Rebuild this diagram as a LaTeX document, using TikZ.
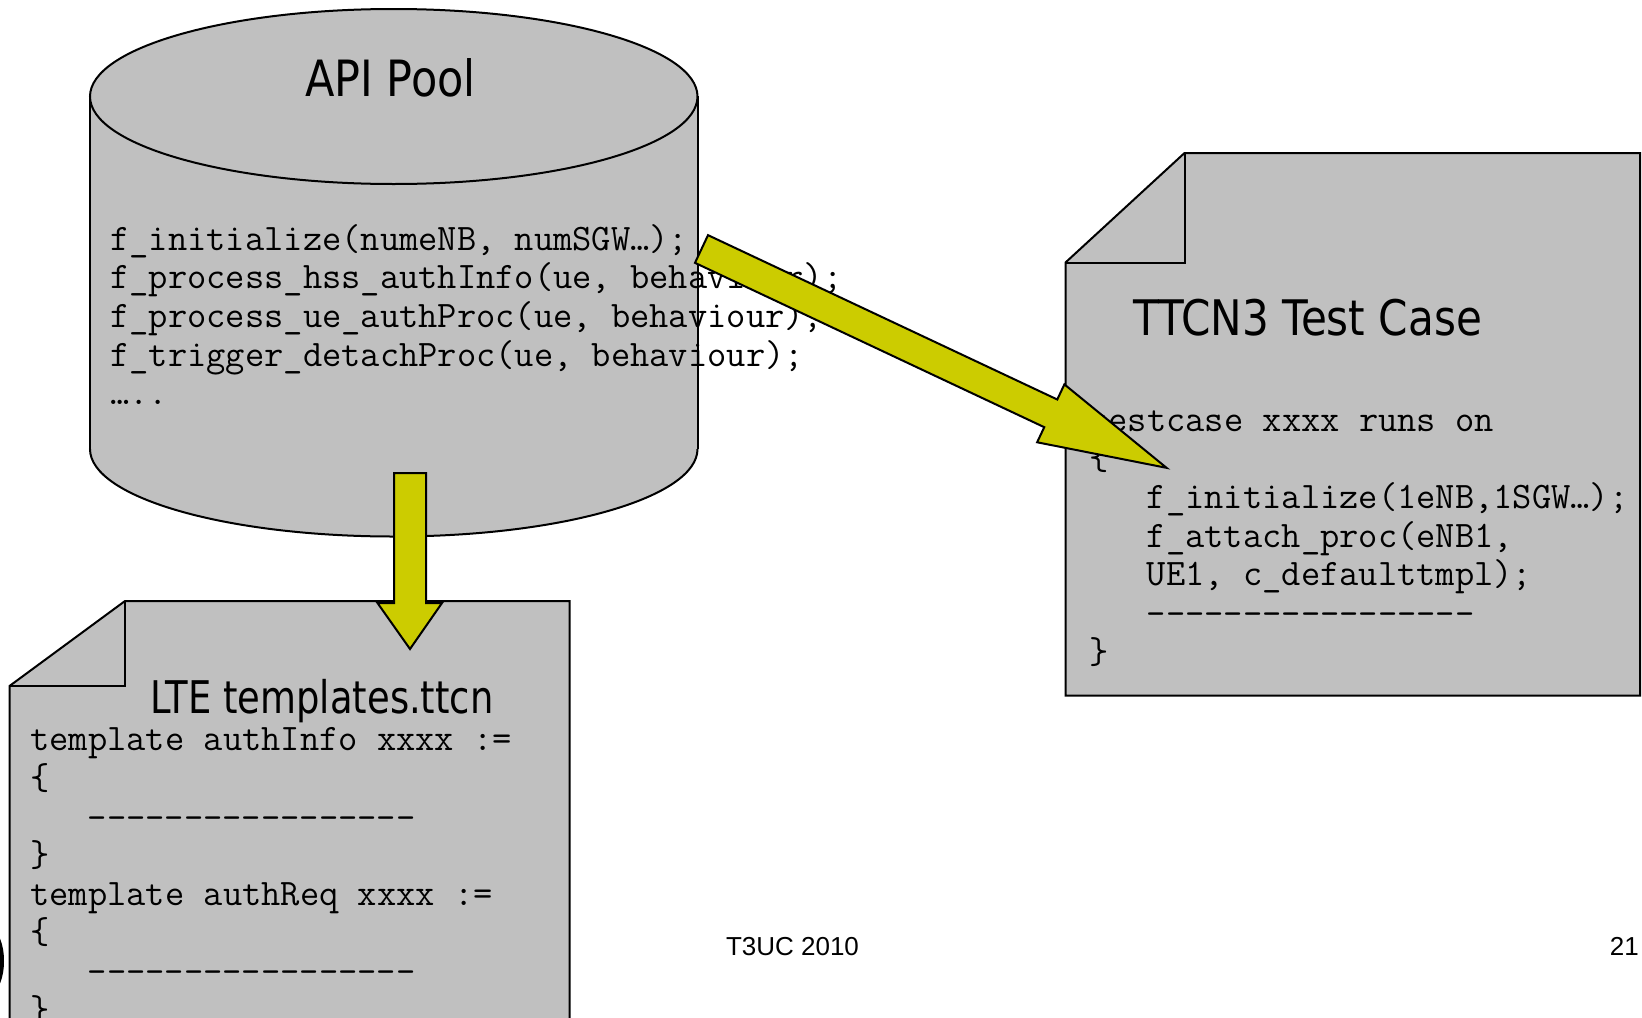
\documentclass[tikz,border=0pt]{standalone}
\usepackage{fontspec}
\setmainfont{DejaVu Sans}
\setmonofont{Latin Modern Mono}
\newfontfamily\footfont{Liberation Sans}
\usepackage{graphicx}
\definecolor{boxgray}{HTML}{C0C0C0}
\definecolor{arrowyellow}{HTML}{CCCC00}
\tikzset{
  shapebox/.style={fill=boxgray, draw=black, line width=1pt, line join=miter},
  blockarrow/.style={fill=arrowyellow, draw=black, line width=1pt, line join=miter},
  code/.style={anchor=base west, inner sep=0pt, font=\fontsize{18.7}{22.4}\selectfont\ttfamily},
  titletext/.style={anchor=base, inner sep=0pt},
  foot/.style={anchor=base west, inner sep=0pt, font=\footfont\fontsize{13}{15}\selectfont}
}
\begin{document}
\begin{tikzpicture}[x=0.5pt,y=-0.5pt]
\useasboundingbox (0,0) rectangle (1642,1017);
% ---------- cylinder (API Pool)
\fill[boxgray, draw=black, line width=1pt] (393.75,449) ellipse [x radius=303.75, y radius=87.5];
\fill[boxgray] (90,96) rectangle (697.5,449);
\draw[line width=1pt] (90,96) -- (90,449) (697.5,96) -- (697.5,449);
\filldraw[shapebox] (393.75,96.5) ellipse [x radius=303.75, y radius=87.5];
\node[titletext] (apititle) at (390.5,96.5) {\scalebox{0.86}[1]{\fontsize{25}{30}\selectfont API Pool}};
\node[code] (a1) at (110,250) {f\_initialize(numeNB, numSGW…);};
\node[code] (a2) at (110,288.7) {f\_process\_hss\_authInfo(ue, behaviour);};
\node[code] (a3) at (110,327.4) {f\_process\_ue\_authProc(ue, behaviour);};
\node[code] (a4) at (110,366.1) {f\_trigger\_detachProc(ue, behaviour);};
\node[code] (a5) at (110,404.8) {…..};
% ---------- LTE templates document
\filldraw[shapebox] (125,601) -- (569.5,601) -- (569.5,1030) -- (9.5,1030) -- (9.5,686) -- cycle;
\draw[line width=1pt] (125,601) -- (125,686) -- (9.5,686);
\node[titletext] (ltetitle) at (322,713) {\scalebox{0.82}[1]{\fontsize{22.5}{27}\selectfont LTE templates.ttcn}};
\node[code] (l1) at (30,750.7) {template authInfo xxxx :=};
\node[code] (l2) at (30,789.3) {\{};
\node[code] (l3) at (87.5,829) {-----------------};
\node[code] (l4) at (30,866.6) {\}};
\node[code] (l5) at (30,905.2) {template authReq xxxx :=};
\node[code] (l6) at (30,943.8) {\{};
\node[code] (l7) at (87.5,983.4) {-----------------};
\node[code] (l8) at (30,1021) {\}};
% ---------- TTCN3 test case document
\filldraw[shapebox] (1184.5,153) -- (1640,153) -- (1640,695.5) -- (1065.5,695.5) -- (1065.5,262.5) -- cycle;
\draw[line width=1pt] (1184.5,153) -- (1184.5,262.5) -- (1065.5,262.5);
\node[titletext] (tctitle) at (1307.5,335) {\scalebox{0.86}[1]{\fontsize{24.5}{29}\selectfont TTCN3 Test Case}};
\node[code] (t1) at (1089,431) {testcase xxxx runs on};
\node[code] (t2) at (1089,469.7) {\{};
\node[code] (t3) at (1146.5,508.4) {f\_initialize(1eNB,1SGW…);};
\node[code] (t4) at (1146.5,547) {f\_attach\_proc(eNB1,};
\node[code] (t5) at (1146.5,585.8) {UE1, c\_defaulttmpl);};
\node[code] (t6) at (1146.5,625.5) {-----------------};
\node[code] (t7) at (1089,663.2) {\}};
% ---------- block arrows
\filldraw[blockarrow] (394,473) -- (426,473) -- (426,603) -- (442,603) -- (410,649) -- (377.5,603) -- (394,603) -- cycle;
\begin{scope}[shift={(701.5,249)}, rotate=-25.2]
\filldraw[blockarrow] (0,-15.3) -- (386,-15.3) -- (386,-32) -- (514,0) -- (386,32) -- (386,15.3) -- (0,15.3) -- cycle;
\end{scope}
% ---------- partial mark at left edge
\fill[black] (-9,961) ellipse [x radius=13, y radius=31];
% ---------- footer
\node[foot] (f1) at (725.6,955.6) {T3UC 2010};
\node[foot] (f2) at (1609.5,955.6) {21};
\end{tikzpicture}
\end{document}
